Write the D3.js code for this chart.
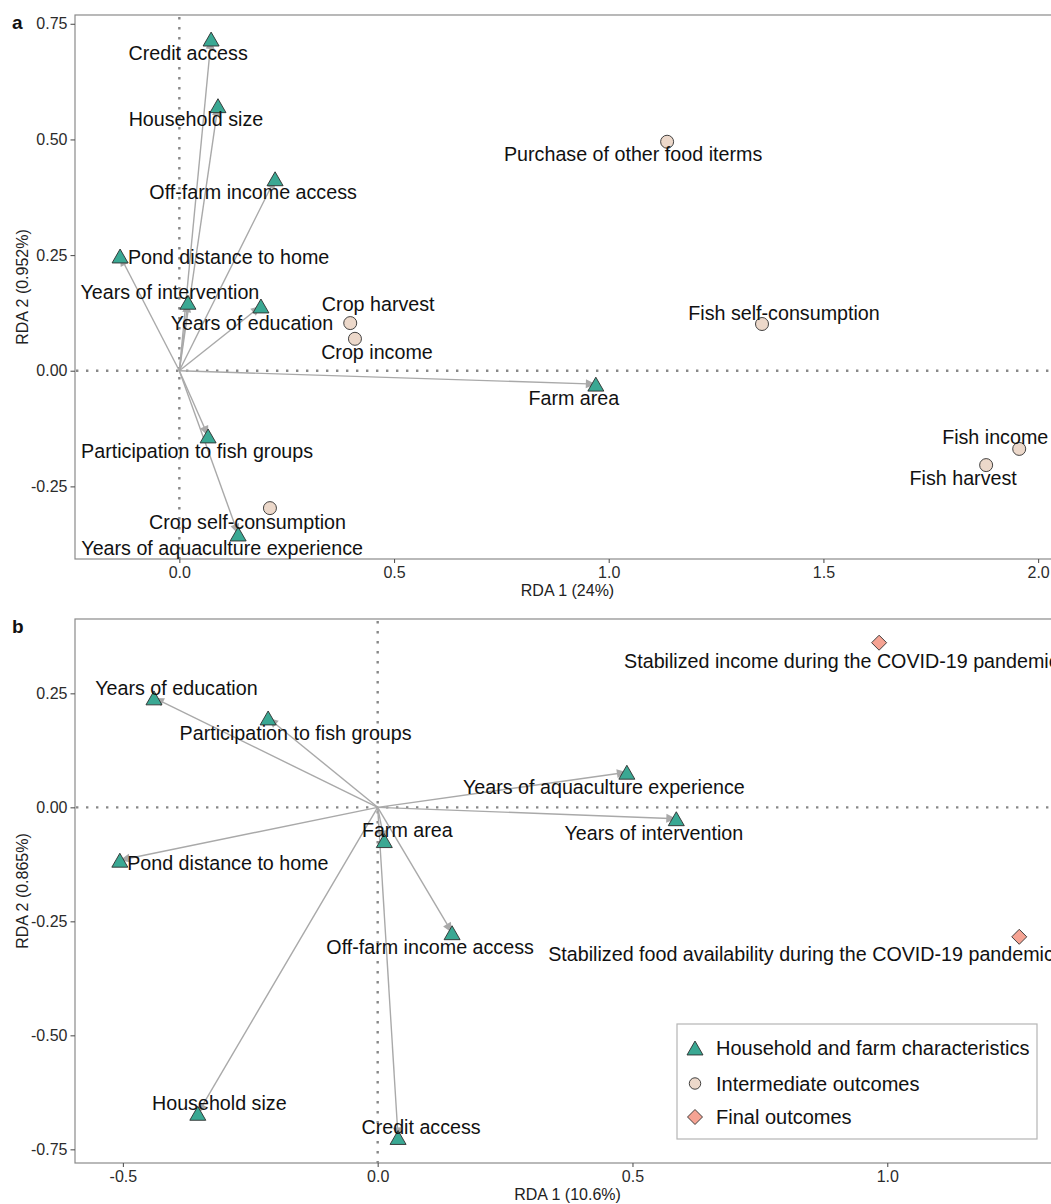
<!DOCTYPE html>
<html>
<head>
<meta charset="utf-8">
<script src="https://cdn.jsdelivr.net/npm/d3@7"></script>
<style>
  body { margin: 0; background: #fff; }
  svg { display: block; font-family: "Liberation Sans", Arial, sans-serif; }
</style>
</head>
<body>
<svg id="chart" width="1051" height="1204"></svg>
<script>
// ---------- Panel a: intermediate outcomes ----------
const charNamesA = ["Credit access", "Household size", "Off-farm income access", "Pond distance to home",
  "Years of intervention", "Years of education", "Farm area", "Participation to fish groups",
  "Years of aquaculture experience"];
const charRda1A = [0.074, 0.090, 0.223, -0.138, 0.020, 0.190, 0.970, 0.067, 0.137];
const charRda2A = [0.717, 0.573, 0.415, 0.248, 0.148, 0.140, -0.029, -0.141, -0.353];

const midNames = ["Purchase of other food iterms", "Crop harvest", "Crop income", "Fish self-consumption",
  "Fish income", "Fish harvest", "Crop self-consumption"];
const midRda1 = [1.136, 0.398, 0.409, 1.357, 1.956, 1.879, 0.211];
const midRda2 = [0.495, 0.103, 0.069, 0.101, -0.169, -0.204, -0.297];

const xTicksA = [0, 0.5, 1, 1.5, 2];
const yTicksA = [-0.25, 0, 0.25, 0.5, 0.75];

// ---------- Panel b: final outcomes ----------
const charNamesB = ["Years of education", "Participation to fish groups", "Pond distance to home", "Farm area",
  "Years of aquaculture experience", "Years of intervention", "Off-farm income access", "Household size",
  "Credit access"];
const charRda1B = [-0.439, -0.215, -0.506, 0.013, 0.489, 0.586, 0.146, -0.353, 0.040];
const charRda2B = [0.240, 0.196, -0.116, -0.073, 0.077, -0.025, -0.275, -0.671, -0.724];

const finalNames = ["Stabilized income during the COVID-19 pandemic",
  "Stabilized food availability during the COVID-19 pandemic"];
const finalRda1 = [0.984, 1.259];
const finalRda2 = [0.361, -0.284];

const xTicksB = [-0.5, 0, 0.5, 1];
const yTicksB = [-0.75, -0.5, -0.25, 0, 0.25];

const groupNames = ["Household and farm characteristics", "Intermediate outcomes", "Final outcomes"];

// Repelled label placement (pixel offset of label centre from its marker)
const labelNudgeA = {
  "Credit access": [-23, 14], "Household size": [-22, 13], "Off-farm income access": [-22, 13],
  "Pond distance to home": [108.5, 1], "Years of intervention": [-18, -10], "Years of education": [-9, 17],
  "Farm area": [-22, 14], "Participation to fish groups": [-11, 15], "Years of aquaculture experience": [-16, 14],
  "Purchase of other food iterms": [-34, 12], "Crop harvest": [28, -19], "Crop income": [22, 13],
  "Fish self-consumption": [22, -11], "Fish income": [-24, -12], "Fish harvest": [-23, 13],
  "Crop self-consumption": [-22.5, 14]
};
const labelNudgeB = {
  "Years of education": [22.5, -10], "Participation to fish groups": [27.5, 15], "Pond distance to home": [108, 3],
  "Farm area": [23, -11], "Years of aquaculture experience": [-23, 15], "Years of intervention": [-22.5, 14],
  "Off-farm income access": [-22, 14], "Household size": [21.5, -10], "Credit access": [23, -10],
  // long labels anchored at their left end
  "Stabilized income during the COVID-19 pandemic": [-255, 18, "start"],
  "Stabilized food availability during the COVID-19 pandemic": [-471, 17, "start"]
};

const COL_CHAR = "#3aa893", COL_MID = "#ecd8ca", COL_FINAL = "#f5a393";
const STROKE = "#2e2e2e";
const LABEL_SIZE = 19.7, TICK_SIZE = 16;
const svg = d3.select("#chart");

// arrowhead for the characteristic vectors
svg.append("defs").append("marker")
  .attr("id", "arrowHead")
  .attr("markerUnits", "userSpaceOnUse")
  .attr("viewBox", "0 0 10 10")
  .attr("refX", 10).attr("refY", 5)
  .attr("markerWidth", 11).attr("markerHeight", 10)
  .attr("orient", "auto")
  .append("path").attr("d", "M0,0.5 L10,5 L0,9.5 Z").attr("fill", "#a9a9a9");

const triPath = (s) => { const h = s * 0.87; return `M0,${-h / 2}L${s / 2},${h / 2}L${-s / 2},${h / 2}Z`; };
const diaPath = (r) => `M0,${-r}L${r},0L0,${r}L${-r},0Z`;

function drawMarker(g, shape, x, y, scale = 1) {
  if (shape === "tri") {
    g.append("path").attr("d", triPath(16 * scale)).attr("transform", `translate(${x},${y})`)
      .attr("fill", COL_CHAR).attr("stroke", STROKE).attr("stroke-width", 0.9);
  } else if (shape === "circ") {
    g.append("circle").attr("cx", x).attr("cy", y).attr("r", 6.5 * scale)
      .attr("fill", COL_MID).attr("stroke", STROKE).attr("stroke-width", 0.9);
  } else {
    g.append("path").attr("d", diaPath(7.5 * scale)).attr("transform", `translate(${x},${y})`)
      .attr("fill", COL_FINAL).attr("stroke", STROKE).attr("stroke-width", 0.9);
  }
}

function drawPanel(cfg) {
  const x = d3.scaleLinear().domain(cfg.xDomain).range([75, 1060]);
  const y = d3.scaleLinear().domain(cfg.yDomain).range([cfg.bottom, cfg.top]);
  const g = svg.append("g");

  // panel border
  g.append("rect").attr("x", 75).attr("y", cfg.top).attr("width", 985).attr("height", cfg.bottom - cfg.top)
    .attr("fill", "none").attr("stroke", "#8a8a8a").attr("stroke-width", 1.2);

  // axes
  const fmtX = d => d.toFixed(1), fmtY = d => d.toFixed(2);
  const ax = g.append("g").attr("transform", `translate(0,${cfg.bottom})`)
    .call(d3.axisBottom(x).tickValues(cfg.xTicks).tickSize(4).tickPadding(3.5).tickFormat(fmtX));
  const ay = g.append("g").attr("transform", "translate(75,0)")
    .call(d3.axisLeft(y).tickValues(cfg.yTicks).tickSize(4.5).tickPadding(3).tickFormat(fmtY));
  [ax, ay].forEach(a => {
    a.select(".domain").remove();
    a.selectAll(".tick line").attr("stroke", "#555").attr("stroke-width", 1.1);
    a.selectAll(".tick text").attr("font-size", TICK_SIZE).attr("fill", "#2b2b2b")
      .attr("font-family", '"Liberation Sans", Arial, sans-serif');
  });

  // axis titles (centred on the full plotting region)
  g.append("text").attr("x", (75 + 1060) / 2).attr("y", cfg.bottom + 37).attr("text-anchor", "middle")
    .attr("font-size", TICK_SIZE).attr("fill", "#222").text(cfg.xTitle);
  g.append("text").attr("transform", `translate(28,${(cfg.top + cfg.bottom) / 2}) rotate(-90)`)
    .attr("text-anchor", "middle").attr("font-size", TICK_SIZE).attr("fill", "#222").text(cfg.yTitle);

  // panel letter
  g.append("text").attr("x", 12).attr("y", cfg.top + 14).attr("font-size", 19).attr("font-weight", "bold")
    .attr("fill", "#111").text(cfg.letter);

  // zero reference lines
  g.append("line").attr("x1", x(0)).attr("x2", x(0)).attr("y1", cfg.top + 2).attr("y2", cfg.bottom)
    .attr("stroke", "#888").attr("stroke-width", 2.4).attr("stroke-dasharray", "2.4,7.6");
  g.append("line").attr("x1", 76).attr("x2", 1060).attr("y1", y(0)).attr("y2", y(0))
    .attr("stroke", "#888").attr("stroke-width", 2.4).attr("stroke-dasharray", "2.4,7.6");

  // vectors from the origin
  const chars = cfg.charNames.map((n, i) => ({ name: n, rx: cfg.charRda1[i], ry: cfg.charRda2[i] }));
  g.selectAll(".vec").data(chars).join("line").attr("class", "vec")
    .attr("x1", x(0)).attr("y1", y(0))
    .attr("x2", d => x(d.rx)).attr("y2", d => y(d.ry))
    .attr("stroke", "#a9a9a9").attr("stroke-width", 1.4)
    .attr("marker-end", "url(#arrowHead)");

  // markers
  const pts = chars.map(d => ({ ...d, shape: "tri" }))
    .concat(cfg.outNames.map((n, i) => ({ name: n, rx: cfg.outRda1[i], ry: cfg.outRda2[i], shape: cfg.outShape })));
  const mg = g.append("g");
  pts.forEach(d => drawMarker(mg, d.shape, x(d.rx), y(d.ry)));

  // labels
  const lg = g.append("g");
  pts.forEach(d => {
    const nudge = cfg.nudge[d.name] || [0, 0];
    lg.append("text")
      .attr("x", x(d.rx) + nudge[0]).attr("y", y(d.ry) + nudge[1])
      .attr("dy", "0.35em")
      .attr("text-anchor", nudge[2] || "middle")
      .attr("font-size", LABEL_SIZE).attr("fill", "#111")
      .text(d.name);
  });
  return { x, y };
}

drawPanel({
  letter: "a", top: 15, bottom: 559,
  xDomain: [-0.243, 2.051], yDomain: [-0.407, 0.769],
  xTicks: xTicksA, yTicks: yTicksA,
  xTitle: "RDA 1 (24%)", yTitle: "RDA 2 (0.952%)",
  charNames: charNamesA, charRda1: charRda1A, charRda2: charRda2A,
  outNames: midNames, outRda1: midRda1, outRda2: midRda2, outShape: "circ",
  nudge: labelNudgeA
});

drawPanel({
  letter: "b", top: 619, bottom: 1163,
  xDomain: [-0.594, 1.339], yDomain: [-0.780, 0.413],
  xTicks: xTicksB, yTicks: yTicksB,
  xTitle: "RDA 1 (10.6%)", yTitle: "RDA 2 (0.865%)",
  charNames: charNamesB, charRda1: charRda1B, charRda2: charRda2B,
  outNames: finalNames, outRda1: finalRda1, outRda2: finalRda2, outShape: "dia",
  nudge: labelNudgeB
});

// legend
const leg = svg.append("g");
leg.append("rect").attr("x", 677).attr("y", 1024).attr("width", 360).attr("height", 115)
  .attr("fill", "#fff").attr("stroke", "#b5b5b5").attr("stroke-width", 1.2);
const legShapes = ["tri", "circ", "dia"];
const legY = [1048, 1083.5, 1117];
groupNames.forEach((n, i) => {
  drawMarker(leg, legShapes[i], 695, legY[i], legShapes[i] === "circ" ? 0.88 : 1);
  leg.append("text").attr("x", 716).attr("y", legY[i]).attr("dy", "0.35em")
    .attr("font-size", 20).attr("fill", "#111").text(n);
});
</script>
</body>
</html>
